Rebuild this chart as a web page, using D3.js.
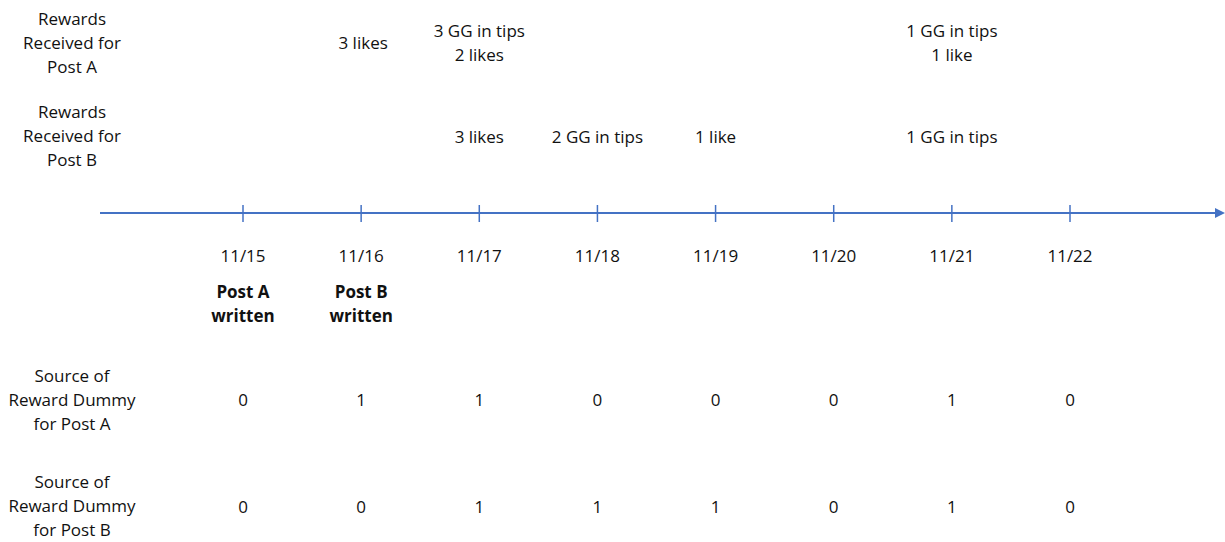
<!DOCTYPE html>
<html><head><meta charset="utf-8">
<script src="https://cdn.jsdelivr.net/npm/d3@7"></script>
<style>body{margin:0;background:#fff}svg{display:block}text{font-family:"Open Sans",sans-serif;fill:#111}</style>
</head><body><svg id="c" width="1225" height="542"></svg>
<script>
const dates = ["11/15","11/16","11/17","11/18","11/19","11/20","11/21","11/22"];
const rewardsA = ["", "3 likes", "3 GG in tips\n2 likes", "", "", "", "1 GG in tips\n1 like", ""];
const rewardsB = ["", "", "3 likes", "2 GG in tips", "1 like", "", "1 GG in tips", ""];
const events = ["Post A\nwritten", "Post B\nwritten", "", "", "", "", "", ""];
const dummyA = [0,1,1,0,0,0,1,0];
const dummyB = [0,0,1,1,1,0,1,0];
const rowLabels = ["Rewards\nReceived for\nPost A","Rewards\nReceived for\nPost B","Source of\nReward Dummy\nfor Post A","Source of\nReward Dummy\nfor Post B"];

const svg = d3.select("#c");
const x = d3.scalePoint().domain(dates).range([243,1070]);
const blue = "#4472C4";
const FS = 17, LH = 24;

function multi(g, str, cx, cy, opts={}) {
  const lines = str.split("\n");
  const t = g.append("text").attr("text-anchor","middle").attr("font-size",FS)
    .attr("font-weight", opts.bold ? "bold" : null);
  lines.forEach((l,i)=>{
    t.append("tspan").attr("x",cx).attr("y", cy + (i-(lines.length-1)/2)*LH).attr("dy","0.35em").text(l);
  });
}

// axis line with arrow
svg.append("defs").append("marker").attr("id","arr").attr("viewBox","0 0 10 10")
  .attr("refX",0).attr("refY",5).attr("markerWidth",5).attr("markerHeight",5).attr("orient","auto")
  .append("path").attr("d","M0,0L10,5L0,10z").attr("fill",blue);
svg.append("line").attr("x1",100).attr("x2",1215).attr("y1",213).attr("y2",213)
  .attr("stroke",blue).attr("stroke-width",2).attr("marker-end","url(#arr)");
svg.selectAll(".tk").data(dates).join("line").attr("class","tk")
  .attr("x1",d=>x(d)).attr("x2",d=>x(d)).attr("y1",205).attr("y2",222)
  .attr("stroke",blue).attr("stroke-width",1.5);

const g = svg.append("g");
// row labels
const labelY = [43, 136, 400, 506];
rowLabels.forEach((l,i)=>multi(g,l,72,labelY[i]));

dates.forEach((d,i)=>{
  multi(g, d, x(d), 256);
  if (events[i]) multi(g, events[i], x(d), 304, {bold:true});
  if (rewardsA[i]) multi(g, rewardsA[i], x(d)+ (i===1?2:0), 43);
  if (rewardsB[i]) multi(g, rewardsB[i], x(d), 137);
  multi(g, String(dummyA[i]), x(d), 400);
  multi(g, String(dummyB[i]), x(d), 507);
});
</script></body></html>
